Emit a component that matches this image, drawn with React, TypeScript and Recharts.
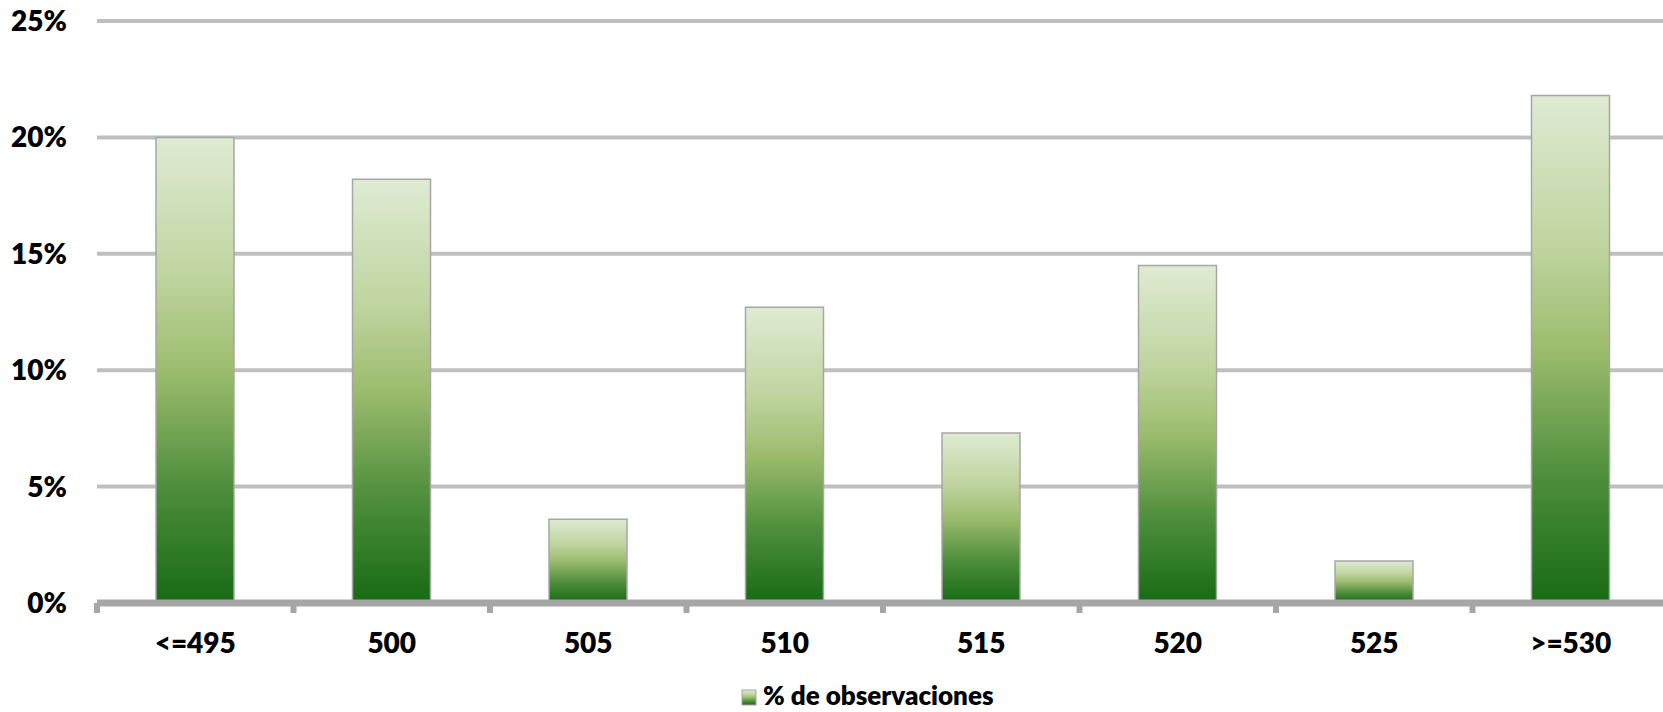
import { BarChart, Bar, XAxis, YAxis, CartesianGrid } from 'recharts';

const categories = ['<=495', '500', '505', '510', '515', '520', '525', '>=530'];
const observaciones = [20.0, 18.2, 3.6, 12.7, 7.3, 14.5, 1.8, 21.8];
const yTicks = [0, 5, 10, 15, 20, 25];
const seriesName = '% de observaciones';

const data = categories.map((name, i) => ({ name, value: observaciones[i] }));

const CHART_W = 1672;
const CHART_H = 712;
const Y_AXIS_W = 97;
const MARGIN = { top: 21, right: 3, left: 0, bottom: 29 };
const BAND = (CHART_W - MARGIN.left - MARGIN.right - Y_AXIS_W) / categories.length;

const font = 'Lato, "Open Sans", sans-serif';
const weight = 800;

function XTick(props: any) {
    const { x, y, payload } = props;
    return (
        <g>
            <line x1={x - BAND / 2} y1={y} x2={x - BAND / 2} y2={y + 10} stroke="#A6A6A6" strokeWidth={6} />
            <text x={x} y={y + 50} textAnchor="middle" fill="#000" fontSize={28} fontWeight={weight} fontFamily={font}>
                {payload.value}
            </text>
        </g>
    );
}

function GreenGradient({ id }: { id: string }) {
    return (
        <linearGradient id={id} x1="0" y1="0" x2="0" y2="1">
            <stop offset="0%" stopColor="#DFEBD3" />
            <stop offset="30%" stopColor="#BFD49F" />
            <stop offset="50%" stopColor="#9CBC6D" />
            <stop offset="75%" stopColor="#4E8E3C" />
            <stop offset="100%" stopColor="#176A14" />
        </linearGradient>
    );
}

export default function App() {
    return (
        <div style={{ position: 'absolute', left: 0, top: 0, width: 1663, height: 712, overflow: 'hidden', background: '#fff' }}>
            <BarChart width={CHART_W} height={CHART_H} data={data} margin={MARGIN}>
                <defs>
                    <GreenGradient id="barGreen" />
                </defs>
                <CartesianGrid vertical={false} stroke="#BFBFBF" strokeWidth={4} />
                <XAxis
                    dataKey="name"
                    height={80}
                    axisLine={{ stroke: '#A6A6A6', strokeWidth: 7 }}
                    tickLine={false}
                    tickSize={0}
                    tickMargin={0}
                    interval={0}
                    tick={<XTick />}
                />
                <YAxis
                    width={Y_AXIS_W}
                    domain={[0, 25]}
                    ticks={yTicks}
                    tickFormatter={(v: number) => `${v}%`}
                    axisLine={false}
                    tickLine={false}
                    tickSize={0}
                    tickMargin={30}
                    tick={{ fill: '#000', fontSize: 28, fontWeight: weight, fontFamily: font }}
                />
                <Bar
                    dataKey="value"
                    name={seriesName}
                    barSize={78}
                    fill="url(#barGreen)"
                    stroke="#A6A6A6"
                    strokeWidth={1.5}
                    isAnimationActive={false}
                />
            </BarChart>
            <svg width={1663} height={712} style={{ position: 'absolute', left: 0, top: 0, pointerEvents: 'none' }}>
                <defs>
                    <GreenGradient id="legendGreen" />
                </defs>
                <rect x={742} y={690} width={14} height={15} fill="url(#legendGreen)" stroke="#A6A6A6" strokeWidth={1} />
                <text x={763} y={705} fill="#000" fontSize={26} fontWeight={weight} fontFamily={font}>
                    {seriesName}
                </text>
            </svg>
        </div>
    );
}
